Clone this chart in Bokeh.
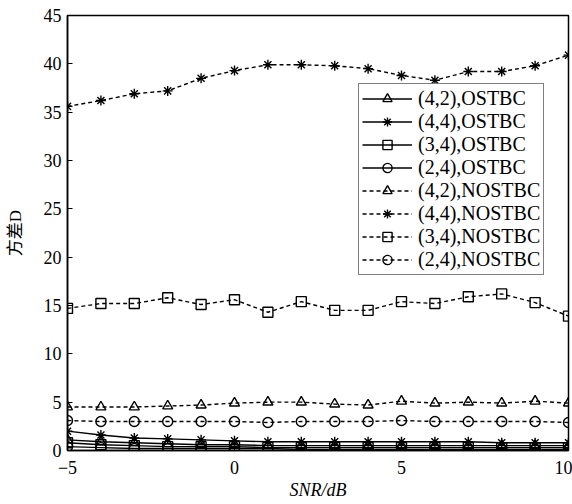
from bokeh.plotting import figure
from bokeh.models import Range1d, FixedTicker, Legend, LegendItem
from bokeh.embed import file_html
from bokeh.resources import INLINE

snr = [-5, -4, -3, -2, -1, 0, 1, 2, 3, 4, 5, 6, 7, 8, 9, 10]

ostbc_42 = [1.1, 0.9, 0.8, 0.7, 0.6, 0.6, 0.5, 0.5, 0.5, 0.5, 0.5, 0.5, 0.5, 0.5, 0.5, 0.5]
ostbc_44 = [2.0, 1.6, 1.3, 1.2, 1.1, 1.0, 0.9, 0.9, 0.9, 0.9, 0.9, 0.9, 0.9, 0.8, 0.8, 0.8]
ostbc_34 = [0.8, 0.6, 0.5, 0.4, 0.4, 0.4, 0.3, 0.3, 0.3, 0.3, 0.3, 0.3, 0.3, 0.3, 0.3, 0.3]
ostbc_24 = [0.4, 0.3, 0.2, 0.2, 0.2, 0.2, 0.2, 0.1, 0.1, 0.1, 0.1, 0.1, 0.1, 0.1, 0.1, 0.1]

nostbc_42 = [4.5, 4.5, 4.5, 4.6, 4.7, 4.9, 5.0, 5.0, 4.8, 4.7, 5.1, 4.9, 5.0, 4.9, 5.1, 4.9]
nostbc_44 = [35.6, 36.2, 36.9, 37.2, 38.5, 39.3, 39.9, 39.9, 39.8, 39.5, 38.8, 38.3, 39.2, 39.2, 39.8, 40.9]
nostbc_34 = [14.7, 15.2, 15.2, 15.8, 15.1, 15.6, 14.3, 15.4, 14.5, 14.5, 15.4, 15.2, 15.9, 16.2, 15.3, 13.9]
nostbc_24 = [3.1, 3.0, 3.0, 3.0, 3.0, 3.0, 2.9, 3.0, 3.0, 3.0, 3.1, 3.0, 3.0, 3.0, 3.0, 2.9]

labels = ["(4,2),OSTBC", "(4,4),OSTBC", "(3,4),OSTBC", "(2,4),OSTBC",
          "(4,2),NOSTBC", "(4,4),NOSTBC", "(3,4),NOSTBC", "(2,4),NOSTBC"]
series = [ostbc_42, ostbc_44, ostbc_34, ostbc_24, nostbc_42, nostbc_44, nostbc_34, nostbc_24]
markers = ["triangle", "asterisk", "square", "circle"] * 2
dashes = ["solid"] * 4 + ["4 3"] * 4

x_ticks = [-5, 0, 5, 10]
y_ticks = [0, 5, 10, 15, 20, 25, 30, 35, 40, 45]
x_title = "SNR/dB"
y_title = "方差D"

FONT = "Liberation Serif"

p = figure(width=572, height=504, output_backend="svg", toolbar_location=None,
           x_range=Range1d(-5, 10), y_range=Range1d(0, 45),
           min_border_left=67, min_border_right=4, min_border_top=15, min_border_bottom=54)
p.frame_width = 501
p.frame_height = 435
p.xgrid.visible = False
p.ygrid.visible = False
p.outline_line_color = "black"
p.outline_line_width = 1.5
p.background_fill_color = "white"
p.border_fill_color = "white"

for ax in (p.xaxis[0], p.yaxis[0]):
    ax.major_tick_in = 5
    ax.major_tick_out = 0
    ax.minor_tick_line_color = None
    ax.axis_line_color = "black"
    ax.axis_line_width = 1.5
    ax.major_tick_line_color = "black"
    ax.major_label_text_font = FONT
    ax.major_label_text_font_size = "18px"
    ax.major_label_text_color = "black"
    ax.axis_label_text_color = "black"
p.xaxis.ticker = FixedTicker(ticks=x_ticks)
p.yaxis.ticker = FixedTicker(ticks=y_ticks)
p.xaxis.major_label_standoff = 10
p.yaxis.major_label_standoff = 6

p.xaxis.axis_label = x_title
p.xaxis.axis_label_text_font = FONT
p.xaxis.axis_label_text_font_style = "italic"
p.xaxis.axis_label_text_font_size = "18px"
p.xaxis.axis_label_standoff = 3
p.yaxis.axis_label = y_title
p.yaxis.axis_label_text_font = "Liberation Serif, Noto Sans CJK SC"
p.yaxis.axis_label_text_font_style = "normal"
p.yaxis.axis_label_text_font_size = "17px"
p.yaxis.axis_label_standoff = 16

items = []
for lab, ys, mk, ds in zip(labels, series, markers, dashes):
    r1 = p.line(snr, ys, line_color="black", line_width=1.4, line_dash=ds)
    r2 = p.scatter(snr, ys, marker=mk, size=10, line_color="black", line_width=1.4,
                   fill_color=None)
    items.append(LegendItem(label=lab, renderers=[r1, r2]))

legend = Legend(items=items, location=(291, 175))
legend.border_line_color = "black"
legend.border_line_width = 1
legend.label_text_font = FONT
legend.label_text_font_size = "20px"
legend.label_text_color = "black"
legend.padding = 3
legend.spacing = 0
legend.margin = 0
legend.label_height = 23
legend.glyph_height = 23
legend.glyph_width = 50
legend.label_standoff = 6
legend.background_fill_alpha = 1
p.add_layout(legend, "center")

open("out.html", "w").write(file_html(p, INLINE))
